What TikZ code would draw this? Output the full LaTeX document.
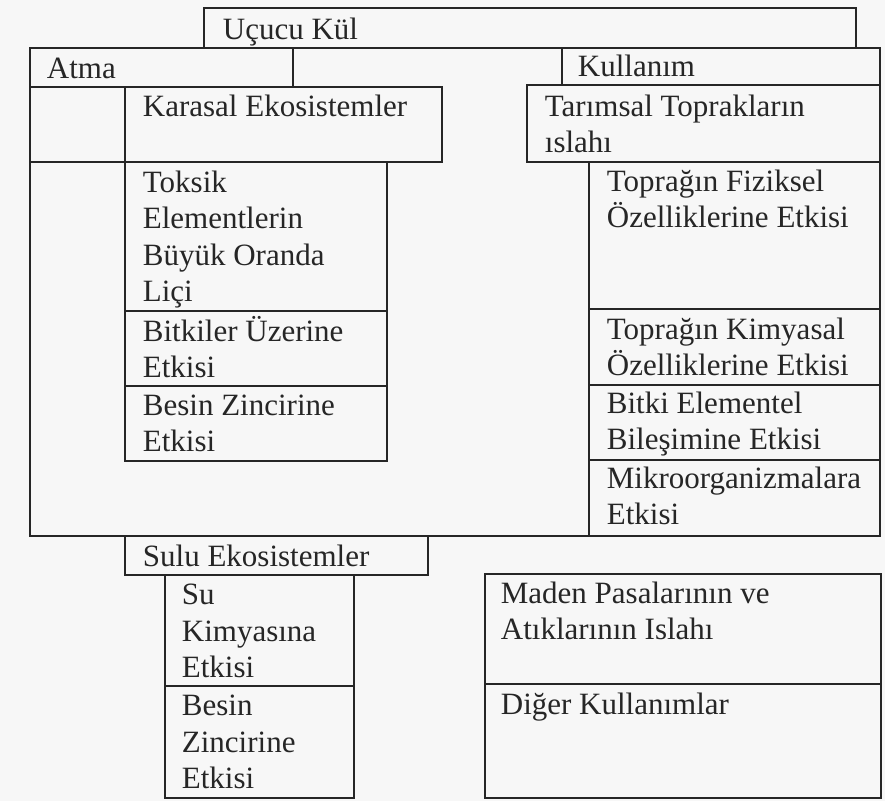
\documentclass[tikz,border=0pt]{standalone}
\usepackage{fontspec}
\setmainfont{Liberation Serif}

\begin{document}
\begin{tikzpicture}[
    x=0.5pt, y=-0.5pt,
    every node/.style={font=\fontsize{15.5}{18.25}\selectfont, text=black!85},
    lbl/.style={anchor=base west, align=left, inner sep=0pt},
    line width=0.9pt
]

\def\L{30}
\def\Rt{880}
\def\B{536}

\fill[black!3] (0,0) rectangle (885,801);
\useasboundingbox (0,0) rectangle (885,801);

\begin{scope}[draw=black!85]
% Top
\draw (204,8) rectangle (856,48);
% Outer frame
\draw (\L,48) rectangle (\Rt,\B);
\draw (\L,48) rectangle (293,87);
\draw (562,48) rectangle (\Rt,85);
% Left side
\draw (125,87) rectangle (442,162);
\draw (\L,162) -- (125,162);
\draw (125,162) rectangle (387,461);
\draw (125,311) -- (387,311);
\draw (125,386) -- (387,386);
% Right side
\draw (527,85) rectangle (\Rt,162);
\draw (589,162) -- (589,\B);
\draw (589,309) -- (\Rt,309);
\draw (589,385) -- (\Rt,385);
\draw (589,460) -- (\Rt,460);
% Lower half
\draw (125,\B) rectangle (428,575);
\draw (165,575) rectangle (354,798);
\draw (165,686) -- (354,686);
\draw (485,574) rectangle (881,798);
\draw (485,684) -- (881,684);
\end{scope}

% base anchor sits on the last line
\node[lbl] (ucucu) at (222,40) {Uçucu Kül};
\node[lbl] (atma) at (46,79) {Atma};
\node[lbl] (kullanim) at (577,77) {Kullanım};

\node[lbl] (karasal) at (142,117) {Karasal Ekosistemler};
\node[lbl] (toksik) at (142,302) {Toksik\\Elementlerin\\Büyük Oranda\\Liçi};
\node[lbl] (bitkiler) at (142,378) {Bitkiler Üzerine\\Etkisi};
\node[lbl] (besin) at (142,452) {Besin Zincirine\\Etkisi};

\node[lbl] (tarimsal) at (544,153) {Tarımsal Toprakların\\ıslahı};
\node[lbl] (fiziksel) at (606,228) {Toprağın Fiziksel\\Özelliklerine Etkisi};
\node[lbl] (kimyasal) at (606,376) {Toprağın Kimyasal\\Özelliklerine Etkisi};
\node[lbl] (bitki) at (606,450) {Bitki Elementel\\Bileşimine Etkisi};
\node[lbl] (mikro) at (606,525) {Mikroorganizmalara\\Etkisi};

\node[lbl] (sulu) at (142,567) {Sulu Ekosistemler};
\node[lbl] (su) at (181,678) {Su\\Kimyasına\\Etkisi};
\node[lbl] (besin2) at (181,789) {Besin\\Zincirine\\Etkisi};

\node[lbl] (maden) at (500,640) {Maden Pasalarının ve\\Atıklarının Islahı};
\node[lbl] (diger) at (500,715) {Diğer Kullanımlar};

\end{tikzpicture}
\end{document}
